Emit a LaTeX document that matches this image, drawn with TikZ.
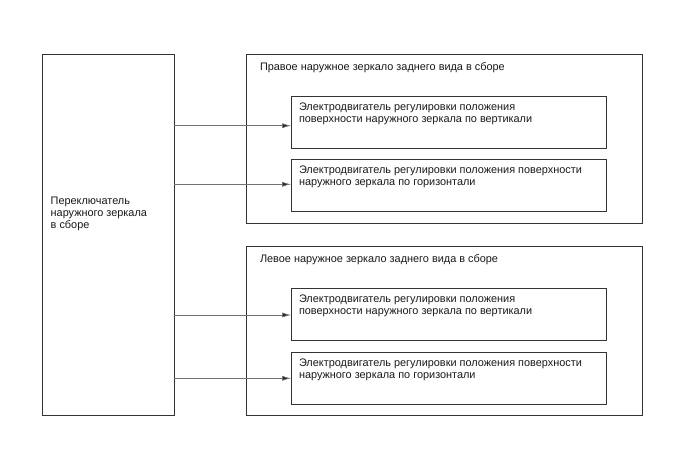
\documentclass[tikz,border=0pt]{standalone}
\usepackage{fontspec}
\setmainfont{Liberation Sans}
\usetikzlibrary{arrows.meta}
\begin{document}
\begin{tikzpicture}[x=1pt,y=-1pt,
  box/.style={draw=black!80,line width=0.8pt,anchor=north west,inner sep=0pt,outer sep=0pt},
  txt/.style={anchor=base west,inner sep=0pt,align=left,font=\fontsize{10.9}{12.2}\selectfont,text=black!90},
  arr/.style={draw=black!55,line width=0.6pt,-{Latex[length=9pt,width=5pt,fill=black!85]}}]
\useasboundingbox (0,0) rectangle (688,463);
% left switch (anchor base = last line baseline)
\node[box,minimum width=131.6pt,minimum height=361pt] (sw) at (42.7,54) {};
\node[txt] (swt) at (50.5,228.5) {Переключатель\\наружного зеркала\\в сборе};
% right mirror
\node[box,minimum width=396pt,minimum height=169.3pt] (rm) at (246.7,54) {};
\node[txt] (rmt) at (259.8,70.3) {Правое наружное зеркало заднего вида в сборе};
\node[box,minimum width=315.7pt,minimum height=51.6pt] (rv) at (291,96.7) {};
\node[txt] (rvt) at (298.8,122.8) {Электродвигатель регулировки положения\\поверхности наружного зеркала по вертикали};
\node[box,minimum width=315.7pt,minimum height=52.4pt] (rh) at (291,159.3) {};
\node[txt] (rht) at (298.8,185.4) {Электродвигатель регулировки положения поверхности\\наружного зеркала по горизонтали};
% left mirror
\node[box,minimum width=396pt,minimum height=168.3pt] (lm) at (246.7,246.7) {};
\node[txt] (lmt) at (259.8,262.3) {Левое наружное зеркало заднего вида в сборе};
\node[box,minimum width=315.7pt,minimum height=51.7pt] (lv) at (291,288.3) {};
\node[txt] (lvt) at (298.8,314.4) {Электродвигатель регулировки положения\\поверхности наружного зеркала по вертикали};
\node[box,minimum width=315.7pt,minimum height=51.6pt] (lh) at (291,352.7) {};
\node[txt] (lht) at (298.8,378.8) {Электродвигатель регулировки положения поверхности\\наружного зеркала по горизонтали};
% arrows
\coordinate (a1) at (sw.east |- 0,125.7);
\coordinate (a2) at (sw.east |- 0,184.3);
\coordinate (a3) at (sw.east |- 0,315);
\coordinate (a4) at (sw.east |- 0,378.3);
\draw[arr] (a1) -- (rv.west |- a1);
\draw[arr] (a2) -- (rh.west |- a2);
\draw[arr] (a3) -- (lv.west |- a3);
\draw[arr] (a4) -- (lh.west |- a4);
\end{tikzpicture}
\end{document}
